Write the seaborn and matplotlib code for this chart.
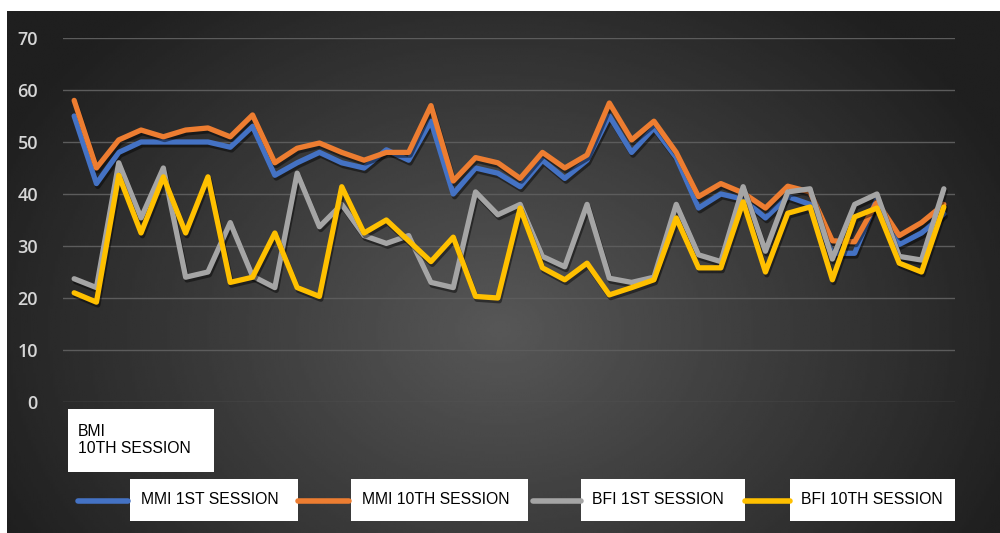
import numpy as np
import pandas as pd
import matplotlib
matplotlib.use('Agg')
import matplotlib.pyplot as plt
import matplotlib.patheffects as pe
from matplotlib.lines import Line2D
from matplotlib.patches import Rectangle
import seaborn as sns

# Datos (40 puntos por serie)
mmi_1st = [55, 42, 48, 50, 50, 50, 50, 49, 53, 43.6, 46, 48, 46, 45, 48.5, 46.5, 54, 40, 45, 44,
           41.4, 46.5, 43, 46.5, 55, 48, 52.7, 47, 37.3, 40, 39, 35.4, 39.5, 38, 28.6, 28.6, 39, 30.3, 32.5, 36.2]
mmi_10th = [58, 45, 50.4, 52.3, 51, 52.3, 52.7, 51, 55.2, 46, 48.8, 49.8, 48, 46.5, 48, 48, 57, 42.5, 47, 46,
            43, 48, 45, 47.5, 57.5, 50.4, 54, 48, 39.5, 42, 40.2, 37.3, 41.5, 40.4, 31, 30.8, 38.5, 32, 34.5, 38]
bfi_1st = [23.7, 22, 46, 35.4, 45, 24, 25, 34.5, 24.2, 22, 44, 33.7, 38, 32, 30.5, 32, 23, 22, 40.4, 36,
           38, 28, 26, 38, 23.8, 23, 24, 38, 28.3, 27, 41.4, 29, 40.4, 41, 27.5, 38, 40, 28, 27.3, 41]
bfi_10th = [21, 19.2, 43.6, 32.5, 43.3, 32.5, 43.3, 23, 24, 32.5, 22, 20.3, 41.4, 32.5, 35, 31, 27, 31.7, 20.3, 20,
            37.3, 25.8, 23.5, 26.7, 20.6, 22, 23.5, 35.4, 25.8, 25.8, 38.5, 25, 36.3, 37.5, 23.5, 35.6, 37.3, 26.7, 25, 37.5]

series = ['MMI 1ST SESSION', 'MMI 10TH SESSION', 'BFI 1ST SESSION', 'BFI 10TH SESSION']
paleta = ['#4472C4', '#ED7D31', '#A5A5A5', '#FFC000']
yticks = [0, 10, 20, 30, 40, 50, 60, 70]

df = pd.DataFrame({'punto': np.arange(len(mmi_1st)),
                   series[0]: mmi_1st, series[1]: mmi_10th,
                   series[2]: bfi_1st, series[3]: bfi_10th})
df = pd.melt(df, id_vars=['punto'], value_vars=series, var_name='serie', value_name='valor')

W, H = 1000, 533
fig = plt.figure(figsize=(W / 100, H / 100), dpi=100)
fig.patch.set_facecolor('white')

def fx(px):
    return px / W

def fy(py):
    return 1 - py / H

# Fondo oscuro con degradado radial
bg = fig.add_axes([fx(7), 0, fx(W - 7), fy(11)])
xx, yy = np.meshgrid(np.linspace(7, 1000, 400), np.linspace(11, 533, 220))
r = np.sqrt(((xx - 500) / 560) ** 2 + ((yy - 330) / 430) ** 2)
val = np.clip(0x57 - (0x57 - 0x1f) * r, 0x1f, 0x57) / 255
bg.imshow(val, cmap='gray', vmin=0, vmax=1, aspect='auto', extent=[0, 1, 0, 1], interpolation='bilinear')
bg.set_axis_off()

# Grafico principal
ax = fig.add_axes([fx(63), fy(402), fx(955 - 63), (402 - 38) / H])
ax.patch.set_alpha(0)
sombra = [pe.SimpleLineShadow(offset=(1, -2), shadow_color='black', alpha=0.45), pe.Normal()]
sns.lineplot(data=df, x='punto', y='valor', hue='serie', hue_order=series, palette=paleta,
             linewidth=3.8, legend=False, ax=ax, path_effects=sombra,
             solid_joinstyle='round', solid_capstyle='round')

ax.set_xlim(-0.5, len(mmi_1st) - 0.5)
ax.set_ylim(0, 70)
ax.set_yticks(yticks)
ax.set_xticks([])
ax.grid(axis='y', color='#5c5c5c', linewidth=1)
ax.set_axisbelow(True)
for s in ax.spines.values():
    s.set_visible(False)
ax.tick_params(axis='y', length=0, pad=18, labelcolor='#d6d6d6', labelsize=13)
for t in ax.get_yticklabels():
    t.set_fontfamily('Open Sans')
    t.set_fontweight('semibold')
ax.set_xlabel('')
ax.set_ylabel('')

# Caja "BMI 10TH SESSION"
fig.add_artist(Rectangle((fx(68), fy(472)), fx(214 - 68), (472 - 409) / H,
                         transform=fig.transFigure, facecolor='white', edgecolor='none'))
fig.text(fx(78), fy(440), 'BMI\n10TH SESSION', fontsize=11.3, family='Liberation Sans',
         color='black', va='center', ha='left', linespacing=1.15)

# Leyenda manual
lineas = [(78, 128), (298, 349), (533, 581), (745, 790)]
cajas = [(130, 298), (351, 528), (581, 745), (790, 955)]
for (l0, l1), (c0, c1), nombre, col in zip(lineas, cajas, series, paleta):
    fig.add_artist(Line2D([fx(l0), fx(l1)], [fy(501), fy(501)], transform=fig.transFigure,
                          color=col, linewidth=4, solid_capstyle='round'))
    fig.add_artist(Rectangle((fx(c0), fy(521)), fx(c1 - c0), (521 - 479) / H,
                             transform=fig.transFigure, facecolor='white', edgecolor='none'))
    fig.text(fx(c0 + 11), fy(499), nombre, fontsize=11.3, family='Liberation Sans',
             color='black', va='center', ha='left')

fig.savefig('out.png', dpi=100)
